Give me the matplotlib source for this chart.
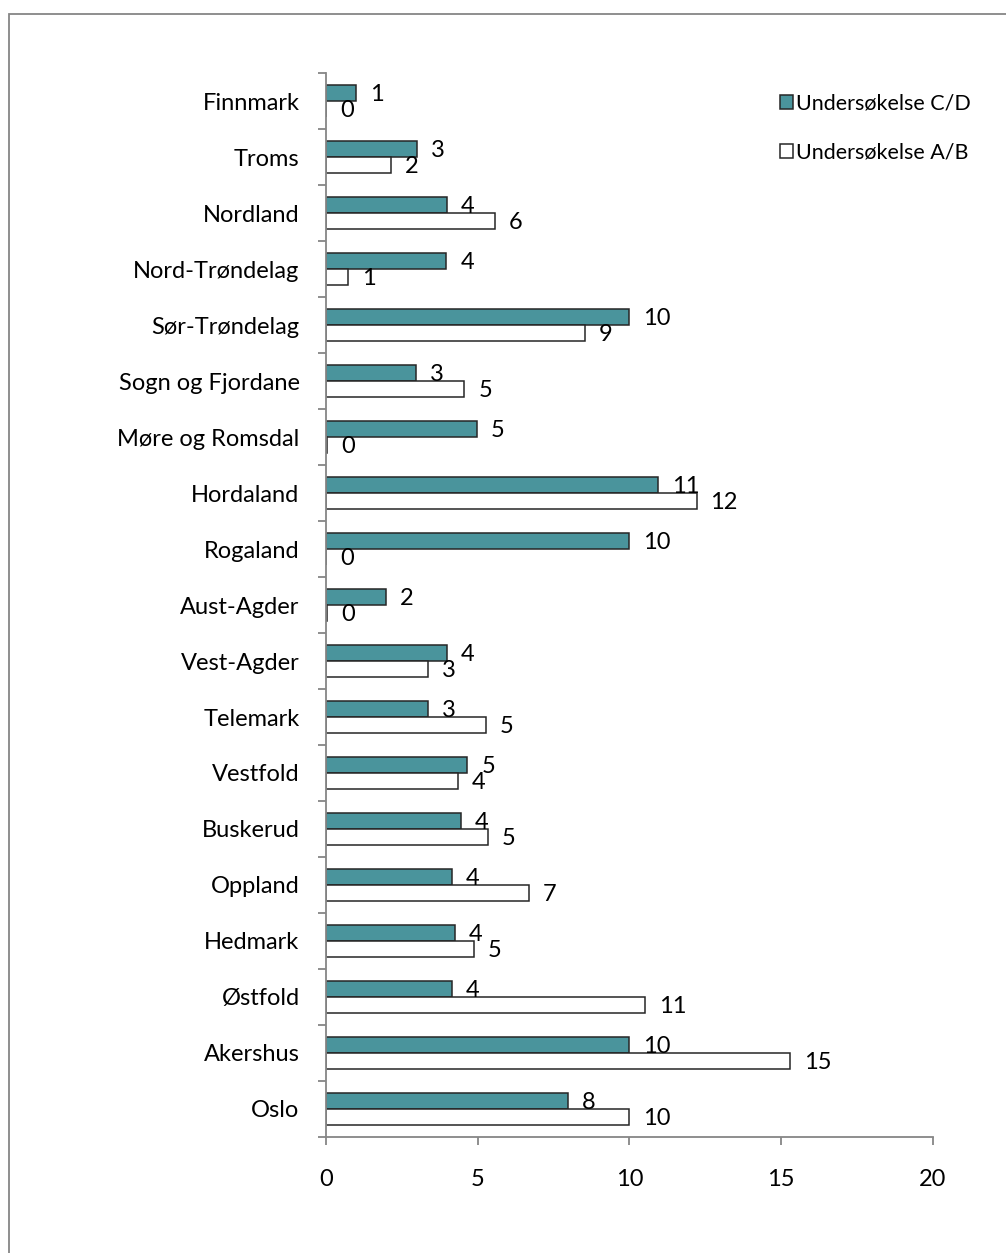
import numpy as np
import matplotlib.pyplot as plt
from matplotlib.patches import Rectangle

# fylker, listed from bottom (Oslo) to top (Finnmark)
counties = ['Oslo', 'Akershus', 'Østfold', 'Hedmark', 'Oppland', 'Buskerud',
            'Vestfold', 'Telemark', 'Vest-Agder', 'Aust-Agder', 'Rogaland',
            'Hordaland', 'Møre og Romsdal', 'Sogn og Fjordane', 'Sør-Trøndelag',
            'Nord-Trøndelag', 'Nordland', 'Troms', 'Finnmark']

# values (labels show them rounded)
survey_cd = [7.97, 10.0, 4.14, 4.25, 4.14, 4.45, 4.66, 3.36, 3.99, 1.99,
             10.0, 10.94, 4.97, 2.97, 10.0, 3.97, 3.99, 2.99, 1.0]
survey_ab = [10.0, 15.29, 10.52, 4.87, 6.7, 5.33, 4.35, 5.27, 3.36, 0.04,
             0.0, 12.21, 0.04, 4.56, 8.52, 0.74, 5.57, 2.13, 0.0]

teal = '#4a949c'
edge = '#262626'
axis_grey = '#868686'
font = 'Lato'
fs = 17

fig = plt.figure(figsize=(10.06, 12.53), dpi=100)
ax = fig.add_axes([0.324, 0.0926, 0.6034, 0.8491])

y = np.arange(len(counties))
h = 0.285
bars_cd = ax.barh(y + h / 2, survey_cd, height=h, color=teal, edgecolor=edge,
                  linewidth=1.1, label='Undersøkelse C/D')
bars_ab = ax.barh(y - h / 2, survey_ab, height=h, color='white', edgecolor=edge,
                  linewidth=1.1, label='Undersøkelse A/B')

# data labels just right of each bar end
for bars, vals in [(bars_cd, survey_cd), (bars_ab, survey_ab)]:
    for b, v in zip(bars, vals):
        ax.annotate(f'{v:.0f}', (b.get_width(), b.get_y() + b.get_height() / 2),
                    xytext=(10, -1), textcoords='offset points', ha='left',
                    va='center', fontsize=fs, family=font, color='black')

ax.set_xlim(0, 20)
ax.set_ylim(-0.5, len(counties) - 0.5)
ax.set_xticks([0, 5, 10, 15, 20])
ax.set_yticks(y)
ax.set_yticklabels(counties)
ax.set_yticks(np.arange(-0.5, len(counties), 1), minor=True)

for s in ['top', 'right']:
    ax.spines[s].set_visible(False)
for s in ['left', 'bottom']:
    ax.spines[s].set_color(axis_grey)
    ax.spines[s].set_linewidth(1.3)

ax.tick_params(axis='y', which='major', length=0, pad=19)
ax.tick_params(axis='y', which='minor', length=6, color=axis_grey, width=1.3)
ax.tick_params(axis='x', length=6, color=axis_grey, width=1.3, pad=17)
for lab in ax.get_xticklabels() + ax.get_yticklabels():
    lab.set_fontsize(fs)
    lab.set_family(font)

leg = ax.legend(handles=[bars_cd, bars_ab], loc='upper left',
                bbox_to_anchor=(0.756, 0.941), bbox_transform=fig.transFigure,
                frameon=False, handlelength=0.6, handleheight=0.6,
                handletextpad=0.15, labelspacing=1.35,
                prop={'family': font, 'size': 15.5})

# chart area border (right and bottom edges are cut off in the original)
fig.patches.append(Rectangle((9 / 1006, -0.1), 1.2, 1 - 14 / 1253 + 0.1,
                             transform=fig.transFigure, fill=False,
                             edgecolor=axis_grey, linewidth=1.3))

fig.savefig('out.png', dpi=100)
